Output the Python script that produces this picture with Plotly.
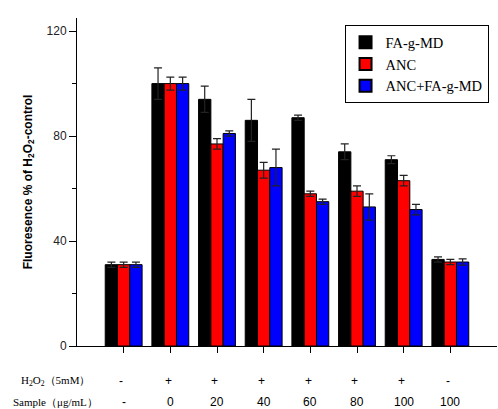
import plotly.graph_objects as go

positions = [1, 2, 3, 4, 5, 6, 7, 8]
h2o2_row = ["-", "+", "+", "+", "+", "+", "+", "-"]
sample_row = ["-", "0", "20", "40", "60", "80", "100", "100"]

series_names = ["FA-g-MD", "ANC", "ANC+FA-g-MD"]
series_colors = ["#000000", "#ff0000", "#0000ff"]

fa_vals = [31, 100, 94, 86, 87, 74, 71, 33]
fa_err = [1, 6, 5, 8, 1, 3, 1.5, 1]
anc_vals = [31, 100, 77, 67, 58, 59, 63, 32]
anc_err = [1, 2.5, 2, 3, 1, 2, 2, 1]
combo_vals = [31, 100, 81, 68, 55, 53, 52, 32]
combo_err = [1, 2.5, 1, 7, 1, 5, 2, 1.2]

values = [fa_vals, anc_vals, combo_vals]
errors = [fa_err, anc_err, combo_err]

fig = go.Figure()
for name, color, v, e in zip(series_names, series_colors, values, errors):
    fig.add_trace(go.Bar(
        x=positions, y=v, name=name,
        marker=dict(color=color, line=dict(color="#000000", width=1)),
        error_y=dict(type="data", array=e, visible=True, color="#222222",
                     thickness=1.2, width=4),
    ))

for xv, a, b in zip(positions, h2o2_row, sample_row):
    fig.add_annotation(x=xv - 0.05, y=-0.108, xref="x", yref="paper", text=a,
                       xanchor="center", yanchor="middle", showarrow=False,
                       font=dict(family="Liberation Sans", size=12, color="#000"))
    fig.add_annotation(x=xv, y=-0.170, xref="x", yref="paper", text=b,
                       xanchor="center", yanchor="middle", showarrow=False,
                       font=dict(family="Liberation Sans", size=12, color="#000"))

fig.add_annotation(x=-0.052, y=-0.108, xref="paper", yref="paper",
                   text="H<sub>2</sub>O<sub>2</sub>（5mM）", showarrow=False,
                   xanchor="center", yanchor="middle",
                   font=dict(family="Liberation Serif", size=11, color="#000"))
fig.add_annotation(x=-0.052, y=-0.170, xref="paper", yref="paper",
                   text="Sample（μg/mL）", showarrow=False,
                   xanchor="center", yanchor="middle",
                   font=dict(family="Liberation Serif", size=11, color="#000"))

fig.update_layout(
    width=498, height=409,
    margin=dict(l=77, r=1, t=18, b=63),
    paper_bgcolor="white", plot_bgcolor="white",
    barmode="group", bargap=0.21, bargroupgap=0,
    showlegend=True,
    legend=dict(x=0.637, y=0.978, xanchor="left", yanchor="top",
                bordercolor="#000", borderwidth=1, bgcolor="white",
                font=dict(family="Liberation Serif", size=14.5, color="#000"),
                tracegroupgap=0, itemsizing="constant"),
    xaxis=dict(range=[0, 9], showline=True, linecolor="#000", linewidth=1,
               ticks="outside", tickvals=positions, ticklen=6, tickcolor="#000",
               showticklabels=False, showgrid=False, zeroline=False),
    yaxis=dict(range=[0, 125], showline=True, linecolor="#000", linewidth=1,
               ticks="outside", tickvals=[0, 40, 80, 120], ticklen=7, tickcolor="#000",
               tickfont=dict(family="Liberation Sans", size=12, color="#222"),
               showgrid=False, zeroline=False,
               minor=dict(tickvals=[20, 60, 100], ticks="outside", ticklen=4,
                          tickcolor="#000", showgrid=False),
               title=dict(text="Fluoresence % of H<sub>2</sub>O<sub>2</sub>-control",
                          font=dict(family="Liberation Sans", size=12, color="#000",
                                    weight="bold"),
                          standoff=11)),
)

fig.write_html("out.html", config={"displayModeBar": False},
               post_script="document.body.style.margin='0';")
